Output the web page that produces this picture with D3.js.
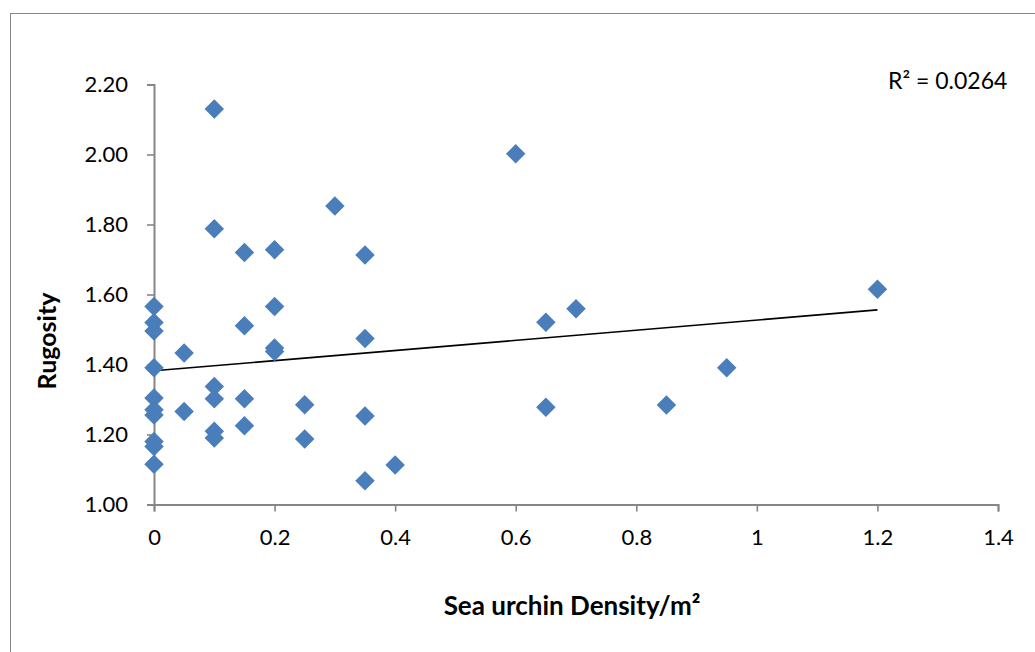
<!DOCTYPE html>
<html>
<head>
<meta charset="utf-8">
<script src="https://cdn.jsdelivr.net/npm/d3@7"></script>
<style>
  body { margin: 0; background: #fff; }
  svg text { font-family: Lato, "Open Sans", sans-serif; fill: #000; }
</style>
</head>
<body>
<svg id="chart" width="1035" height="652"></svg>
<script>
// urchin density (per m2) and rugosity
var density = [0, 0, 0, 0, 0, 0, 0, 0, 0, 0,
               0.05, 0.05,
               0.1, 0.1, 0.1, 0.1, 0.1, 0.1,
               0.15, 0.15, 0.15, 0.15,
               0.2, 0.2, 0.2, 0.2,
               0.25, 0.25, 0.3,
               0.35, 0.35, 0.35, 0.35, 0.4,
               0.6, 0.65, 0.65, 0.7, 0.85, 0.95, 1.2];
var rugosity = [1.566, 1.52, 1.496, 1.391, 1.304, 1.271, 1.256, 1.18, 1.166, 1.115,
                1.433, 1.266,
                2.13, 1.788, 1.337, 1.302, 1.209, 1.19,
                1.72, 1.511, 1.302, 1.225,
                1.728, 1.566, 1.447, 1.437,
                1.285, 1.187, 1.853,
                1.713, 1.474, 1.253, 1.068, 1.113,
                2.002, 1.521, 1.278, 1.559, 1.284, 1.391, 1.615];
var xTicks = [0, 0.2, 0.4, 0.6, 0.8, 1, 1.2, 1.4];
var yTicks = [1.0, 1.2, 1.4, 1.6, 1.8, 2.0, 2.2];
// linear trendline ends (as drawn by excel)
var trendX = [0, 1.2];
var trendY = [1.382, 1.556];
var rSquared = "R\u00b2 = 0.0264";

var svg = d3.select("#chart");

var x = d3.scaleLinear().domain([0, 1.4]).range([154, 998]);
var y = d3.scaleLinear().domain([1.0, 2.2]).range([504.5, 84.5]);

var axisColor = "#868686",
    markColor = "#4a7ebb";

// outer chart frame (runs off the right/bottom edge)
svg.append("rect")
    .attr("x", 10.5).attr("y", 13.5)
    .attr("width", 1040).attr("height", 660)
    .attr("fill", "none")
    .attr("stroke", axisColor)
    .attr("stroke-width", 1);

//--------------------------------- axes ---------------------------------//
var yAxis = svg.append("g")
    .attr("transform", "translate(" + x(0) + ",0)")
    .call(d3.axisLeft(y).tickValues(yTicks).tickSize(7).tickPadding(19)
        .tickFormat(d3.format(".2f")));

var xAxis = svg.append("g")
    .attr("transform", "translate(0," + y(1.0) + ")")
    .call(d3.axisBottom(x).tickValues(xTicks).tickSize(7).tickPadding(18)
        .tickFormat(function(d){ return d3.format("")(+d.toFixed(1)); }));

svg.selectAll(".domain, .tick line")
    .attr("stroke", axisColor)
    .attr("stroke-width", 1.6);
svg.selectAll(".domain").attr("stroke-width", 2);
svg.selectAll(".tick text")
    .attr("fill", "#000")
    .style("font-size", "22px")
    .style("font-family", "Lato, sans-serif");

//--------------------------------- trend line ---------------------------------//
svg.append("line")
    .attr("x1", x(trendX[0])).attr("y1", y(trendY[0]))
    .attr("x2", x(trendX[1])).attr("y2", y(trendY[1]))
    .attr("stroke", "#000")
    .attr("stroke-width", 1.6);

//--------------------------------- points ---------------------------------//
var pts = density.map(function(d, i){ return {x: d, y: rugosity[i]}; });
var diamond = d3.symbol().type(d3.symbolSquare).size(190);

svg.append("g").selectAll("path")
    .data(pts)
    .enter().append("path")
    .attr("d", diamond)
    .attr("transform", function(d){ return "translate(" + x(d.x) + "," + y(d.y) + ") rotate(45)"; })
    .attr("fill", markColor);

//--------------------------------- labels ---------------------------------//
svg.append("text")
    .attr("x", 888).attr("y", 89)
    .style("font-size", "23px")
    .text(rSquared);

svg.append("text")
    .attr("x", 572).attr("y", 615)
    .attr("text-anchor", "middle")
    .style("font-size", "26px")
    .style("font-weight", "bold")
    .text("Sea urchin Density/m\u00b2");

svg.append("text")
    .attr("transform", "translate(56,341) rotate(-90)")
    .attr("text-anchor", "middle")
    .style("font-size", "25px")
    .style("font-weight", "bold")
    .text("Rugosity");
</script>
</body>
</html>
